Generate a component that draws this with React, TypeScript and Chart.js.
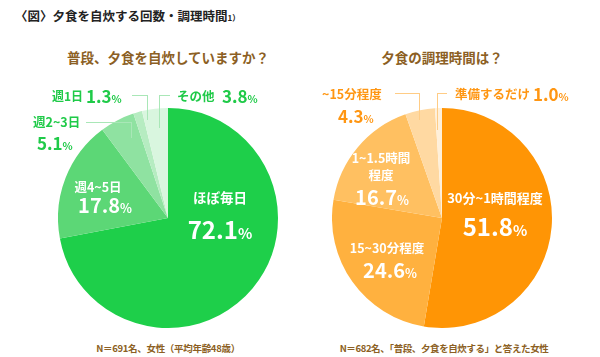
import React, { useEffect, useRef } from "react";
import { Chart, registerables } from "chart.js";

Chart.register(...registerables);

// ---- data ----
const cookCategories = ["ほぼ毎日", "週4~5日", "週2~3日", "週1日", "その他"];
const cookValues = [72.1, 17.8, 5.1, 1.3, 3.8];
const timeCategories = ["30分~1時間程度", "15~30分程度", "1~1.5時間程度", "~15分程度", "準備するだけ"];
const timeValues = [51.8, 24.6, 16.7, 4.3, 1.0];

const titleText = "〈図〉夕食を自炊する回数・調理時間";
const titleNote = "1）";
const cookQuestion = "普段、夕食を自炊していますか？";
const timeQuestion = "夕食の調理時間は？";
const cookNote = "N＝691名、女性（平均年齢48歳）";
const timeNote = "N＝682名、「普段、夕食を自炊する」と答えた女性";

// ---- styles ----
const cookColors = ["#1ecf4a", "#5cd776", "#8fe2a1", "#b6ecc1", "#d9f6df"];
const timeColors = ["#ff9505", "#ffb13f", "#ffc061", "#ffd9a2", "#fff0da"];
const GREEN = "#1fca48";
const ORANGE = "#ff9612";
const BROWN = "#8c5f24";
const FONT = "'Noto Sans CJK JP', 'Noto Sans', sans-serif";
const R = 110;

function Pie({ left, top, labels, values, colors }: any) {
  const ref = useRef<HTMLCanvasElement>(null);
  useEffect(() => {
    const chart = new Chart(ref.current!, {
      type: "pie",
      data: {
        labels,
        datasets: [{ data: values, backgroundColor: colors, borderWidth: 0 }],
      },
      options: {
        responsive: false,
        animation: false,
        layout: { padding: 0 },
        plugins: { legend: { display: false }, tooltip: { enabled: false } },
      },
    });
    return () => chart.destroy();
  }, []);
  return (
    <canvas
      ref={ref}
      width={2 * R}
      height={2 * R}
      style={{ position: "absolute", left, top, width: 2 * R, height: 2 * R }}
    />
  );
}

function Txt({ x, y, size, color, align = "left", children, weight = 700, spacing = 0 }: any) {
  const style: any = {
    position: "absolute",
    top: y - size / 2,
    lineHeight: `${size}px`,
    fontSize: size,
    fontWeight: weight,
    color,
    fontFamily: FONT,
    whiteSpace: "nowrap",
    letterSpacing: spacing,
    left: x,
  };
  if (align === "center") style.transform = "translateX(-50%)";
  return <div style={style}>{children}</div>;
}

function Pct({ x, y, size, color, value, align = "left" }: any) {
  return (
    <Txt x={x} y={y} size={size} color={color} align={align}>
      {value.toFixed(1)}
      <span style={{ fontSize: size * 0.62 }}>%</span>
    </Txt>
  );
}

function Leader({ x1, x2, y, yEnd, xv, color }: any) {
  const l = Math.min(x1, x2);
  const w = Math.abs(x2 - x1);
  return (
    <>
      <div style={{ position: "absolute", left: l, top: y, width: w, height: 1, background: color }} />
      <div style={{ position: "absolute", left: xv, top: y, width: 1, height: yEnd - y, background: color }} />
    </>
  );
}

export default function App() {
  const lcx = 168, rcx = 442, cy = 218;
  const gLine = "#a9e7b7";
  const oLine = "#ffcc85";
  return (
    <div style={{ position: "absolute", left: 0, top: 0, width: 600, height: 357, background: "#fff", overflow: "hidden" }}>
      <Pie left={lcx - R} top={cy - R} labels={cookCategories} values={cookValues} colors={cookColors} />
      <Pie left={rcx - R} top={cy - R} labels={timeCategories} values={timeValues} colors={timeColors} />

      {/* title */}
      <Txt x={15} y={16} size={12.5} color="#222">
        {titleText}
        <span style={{ fontSize: 8 }}>{titleNote}</span>
      </Txt>

      {/* questions */}
      <Txt x={lcx} y={58} size={13.5} color={BROWN} align="center">{cookQuestion}</Txt>
      <Txt x={rcx} y={58} size={13.5} color={BROWN} align="center">{timeQuestion}</Txt>

      {/* left leaders */}
      <Leader x1={132} x2={147} y={95} yEnd={120} xv={147} color={gLine} />
      <Leader x1={159} x2={170} y={95} yEnd={128} xv={159} color={gLine} />
      <Leader x1={86} x2={131} y={122} yEnd={138} xv={131} color={gLine} />

      {/* left outside labels */}
      <Txt x={52} y={96} size={12} color={GREEN}>{cookCategories[3]}</Txt>
      <Pct x={86} y={95} size={17} color={GREEN} value={cookValues[3]} />
      <Txt x={177} y={96} size={12.5} color={GREEN}>{cookCategories[4]}</Txt>
      <Pct x={222} y={95} size={17} color={GREEN} value={cookValues[4]} />
      <Txt x={33} y={122} size={12.5} color={GREEN}>{cookCategories[2]}</Txt>
      <Pct x={37} y={142} size={17} color={GREEN} value={cookValues[2]} />

      {/* left inside labels */}
      <Txt x={98} y={187} size={12.5} color="#fff" align="center">{cookCategories[1]}</Txt>
      <Pct x={105} y={205} size={20} color="#fff" value={cookValues[1]} align="center" />
      <Txt x={220} y={198} size={13.5} color="#fff" align="center">{cookCategories[0]}</Txt>
      <Pct x={220} y={229} size={24} color="#fff" value={cookValues[0]} align="center" />

      {/* right leaders */}
      <Leader x1={395} x2={419} y={93} yEnd={120} xv={419} color={oLine} />
      <Leader x1={437} x2={447} y={93} yEnd={130} xv={437} color={oLine} />

      {/* right outside labels */}
      <Txt x={322} y={94} size={12.5} color={ORANGE}>{timeCategories[3]}</Txt>
      <Pct x={338} y={115} size={17} color={ORANGE} value={timeValues[3]} />
      <Txt x={455} y={94} size={12.5} color={ORANGE}>{timeCategories[4]}</Txt>
      <Pct x={533} y={93} size={17} color={ORANGE} value={timeValues[4]} />

      {/* right inside labels */}
      <Txt x={381} y={158} size={12.5} color="#fff" align="center">{timeCategories[2].slice(0, 7)}</Txt>
      <Txt x={381} y={175} size={12.5} color="#fff" align="center">{timeCategories[2].slice(7)}</Txt>
      <Pct x={382} y={197} size={20} color="#fff" value={timeValues[2]} align="center" />
      <Txt x={495} y={197} size={13} color="#fff" align="center">{timeCategories[0]}</Txt>
      <Pct x={495} y={226} size={24} color="#fff" value={timeValues[0]} align="center" />
      <Txt x={387} y={248} size={12.5} color="#fff" align="center">{timeCategories[1]}</Txt>
      <Pct x={390} y={270} size={20} color="#fff" value={timeValues[1]} align="center" />

      {/* footnotes */}
      <Txt x={lcx} y={349} size={9.5} color={BROWN} align="center" spacing={-0.3}>{cookNote}</Txt>
      <Txt x={rcx + 2} y={349} size={9.5} color={BROWN} align="center" spacing={-0.4}>{timeNote}</Txt>
    </div>
  );
}
